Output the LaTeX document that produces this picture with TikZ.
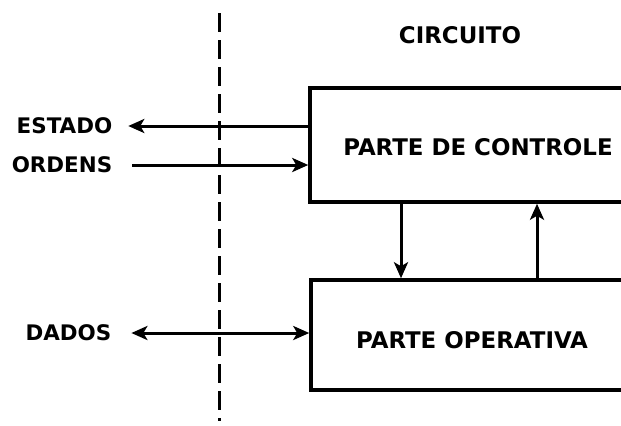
\documentclass[tikz,border=0pt]{standalone}
\usepackage{fontspec}
\setmainfont{DejaVu Sans}
\usetikzlibrary{arrows.meta}
\begin{document}
\begin{tikzpicture}[x=1bp,y=-1bp,
  lbl/.style={font=\fontsize{21.5}{24}\selectfont\bfseries, inner sep=0pt},
  boxtxt/.style={font=\fontsize{23}{26}\selectfont\bfseries, inner sep=0pt},
  blk/.style={draw, line width=3.5bp, rectangle, inner sep=0pt},
  conn/.style={line width=3bp, -{Stealth[length=16bp,width=14bp,inset=4bp]}},
  dconn/.style={line width=3bp, {Stealth[length=16bp,width=14bp,inset=4bp]}-{Stealth[length=16bp,width=14bp,inset=4bp]}},
  sep/.style={line width=3bp, dash pattern=on 19bp off 8bp}]
\useasboundingbox (0,0) rectangle (621,425);
\clip (0,0) rectangle (621,425);
% boxes (open on the right: they run past the edge)
\node[blk, minimum width=345bp, minimum height=114bp] (ctrl) at (482.5,145) {};
\node[blk, minimum width=345bp, minimum height=110bp] (oper) at (483.5,335) {};
% texts
\node[boxtxt] (tctrl) at (478,147) {PARTE DE CONTROLE};
\node[boxtxt] (toper) at (472,340) {PARTE OPERATIVA};
\node[boxtxt] (circ) at (460,35) {CIRCUITO};
\node[lbl, outer xsep=16bp] (estado) at (64.5,126) {ESTADO};
\node[lbl, outer xsep=20bp] (ordens) at (62,165) {ORDENS};
\node[lbl, outer xsep=20bp] (dados) at (68.5,333) {DADOS};
% separator
\coordinate (dtop) at (219,13);
\coordinate (dbot) at (219,421);
\draw[sep] (dtop) -- (dbot);
% connectors
\draw[conn] (estado -| ctrl.west) -- (estado.east);
\draw[conn] (ordens.east) -- (ordens -| ctrl.west);
\draw[dconn] (dados.east) -- (dados -| oper.west);
\coordinate (dn) at (401,0);
\coordinate (up) at (537,0);
\draw[conn] (dn |- ctrl.south) -- (dn |- oper.north);
\draw[conn] (up |- oper.north) -- (up |- ctrl.south);
\end{tikzpicture}
\end{document}
